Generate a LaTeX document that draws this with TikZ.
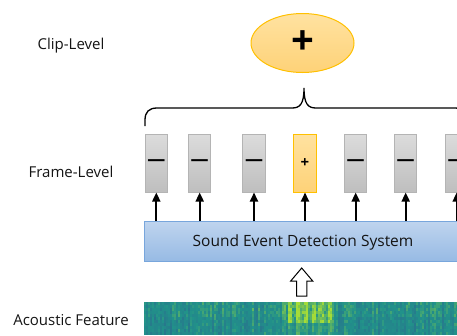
\documentclass[tikz,border=0pt]{standalone}
\usepackage{fontspec}
\setmainfont{Open Sans}
\usetikzlibrary{arrows.meta,shapes.geometric}
\definecolor{vlow}{RGB}{44,100,142}
\definecolor{vmid}{RGB}{33,146,138}
\definecolor{vhigh}{RGB}{165,220,55}
\definecolor{frtop}{RGB}{220,220,220}
\definecolor{frbot}{RGB}{190,190,190}
\definecolor{frline}{RGB}{180,180,180}
\definecolor{ortop}{RGB}{255,226,160}
\definecolor{orbot}{RGB}{254,210,120}
\definecolor{orline}{RGB}{255,192,0}
\definecolor{sedtop}{RGB}{190,212,238}
\definecolor{sedbot}{RGB}{150,186,228}
\definecolor{sedline}{RGB}{120,166,220}
\definecolor{txt}{RGB}{20,20,20}
\tikzset{
  lvl/.style={font=\fontsize{15}{17}\selectfont, text=txt},
  frame/.style={rectangle, minimum width=22.5pt, minimum height=58pt, inner sep=0pt,
    draw=frline, line width=1pt, top color=frtop, bottom color=frbot,
    font=\fontsize{18}{18}\selectfont\bfseries},
  hframe/.style={frame, draw=orline, top color=ortop, bottom color=orbot,
    font=\fontsize{15}{15}\selectfont\bfseries},
  up/.style={-{Triangle[width=8pt,length=9pt]}, line width=1.8pt, black},
}
\begin{document}
\begin{tikzpicture}[x=1pt,y=-1pt]
\useasboundingbox (0,0) rectangle (457,335);
% labels
\node[lvl] (clip) at (71,46) {Clip-Level};
\node[lvl] (frame) at (71,172) {Frame-Level};
\node[lvl] (ac) at (71,320) {Acoustic Feature};
% ellipse
\node[ellipse, minimum width=103pt, minimum height=59pt, draw=orline, line width=1pt,
  top color=ortop, bottom color=orbot, inner sep=0pt,
  font=\fontsize{40}{40}\selectfont\bfseries] (clipnode) at (302.5,43) {+};
% brace
\coordinate (btip) at (304,88);
\draw[line width=1.3pt, black] (145,126) -- (145,120) .. controls (145,112) and (149,108) .. (157,108)
  -- (292,108) .. controls (300,108) and (304,104) .. (btip)
  .. controls (304,104) and (308,108) .. (316,108)
  -- (455,108) .. controls (463,108) and (467,112) .. (467,120) -- (467,126);
% SED box
\node[rectangle, draw=sedline, line width=1pt, top color=sedtop, bottom color=sedbot,
  minimum width=330pt, minimum height=40pt, inner sep=0pt, anchor=north west] (sed) at (143.5,221) {};
\node[font=\fontsize{15.5}{17}\selectfont, text=txt] (sedtext) at (303,242) {Sound Event Detection System};
% frames
\node[frame] (f1) at (156.3,163) {—};
\node[frame] (f2) at (199.7,163) {—};
\node[frame] (f3) at (254,163) {—};
\node[hframe] (f4) at (305,163) {+};
\node[frame] (f5) at (355.7,163) {—};
\node[frame] (f6) at (405.7,163) {—};
\node[frame] (f7) at (456.7,163) {—};
\foreach \f in {f1,f2,f3,f4,f5,f6,f7} {
  \draw[up] (sed.north -| \f.south) -- (\f.south);
}
% hollow arrow
\draw[line width=1pt, black, fill=white] (296.5,296) -- (296.5,281) -- (290.7,281) -- (301.7,268)
  -- (312.7,281) -- (306.9,281) -- (306.9,296) -- cycle;
% spectrogram
\pgfmathsetseed{11}
\foreach \i in {0,...,156} {
  \pgfmathsetmacro\sc{rnd}
  \pgfmathsetmacro\xx{144+2*\i}
  \pgfmathsetmacro\ss{min(1,2.5*sin(180*((\xx-281)/54)))}
  \pgfmathsetmacro\bw{((\xx>281)&&(\xx<335)) ? (mod(\i,4)<2 ? 0.7 : 0.3)*\ss : 0}
  \foreach \j in {0,...,10} {
    \pgfmathsetmacro\yy{302+3*\j}
    \pgfmathsetmacro\blob{(\yy<323) ? \bw*(0.5+0.5*rnd) : 0.25*\bw}
    \pgfmathsetmacro\tp{(\yy<316) ? 0.10*rnd : 0}
    \pgfmathsetmacro\v{max(0,min(1,0.2+0.25*\sc+0.2*rnd+\blob+\tp))}
    \ifdim\v pt<0.5pt
      \pgfmathtruncatemacro\p{\v*200}
      \fill[vmid!\p!vlow] (\xx,\yy) rectangle ++(2.1,3.1);
    \else
      \pgfmathtruncatemacro\p{(\v-0.5)*200}
      \fill[vhigh!\p!vmid] (\xx,\yy) rectangle ++(2.1,3.1);
    \fi
  }
}
\end{tikzpicture}
\end{document}
